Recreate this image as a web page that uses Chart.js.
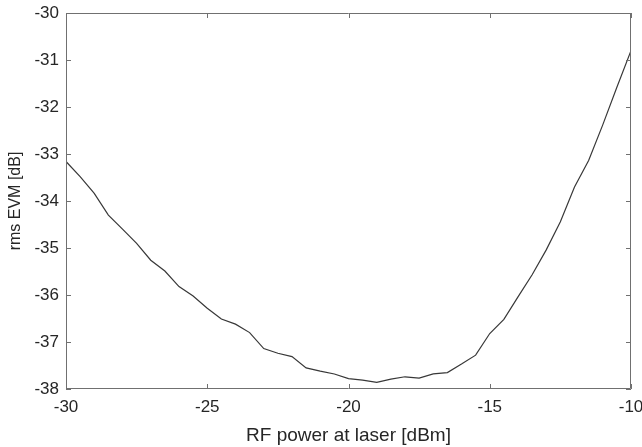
<!DOCTYPE html>
<html>
<head>
<meta charset="utf-8">
<script src="https://cdn.jsdelivr.net/npm/chart.js@4/dist/chart.umd.min.js"></script>
<style>
  html, body { margin: 0; padding: 0; background: #fff; }
  #wrap { width: 642px; height: 447px; }
</style>
</head>
<body>
<div id="wrap"><canvas id="evmChart" width="642" height="447"></canvas></div>
<script>
// RF power at laser [dBm]
const rfPower = [-30, -29.5, -29, -28.5, -28, -27.5, -27, -26.5, -26, -25.5,
    -25, -24.5, -24, -23.5, -23, -22.5, -22, -21.5, -21, -20.5,
    -20, -19.5, -19, -18.5, -18, -17.5, -17, -16.5, -16, -15.5,
    -15, -14.5, -14, -13.5, -13, -12.5, -12, -11.5, -11, -10.5, -10];

// rms EVM [dB]
const evm = [-33.16, -33.48, -33.84, -34.30, -34.60, -34.90, -35.26, -35.49, -35.82, -36.02,
    -36.28, -36.51, -36.62, -36.80, -37.14, -37.24, -37.31, -37.55, -37.62, -37.68,
    -37.78, -37.81, -37.86, -37.79, -37.74, -37.77, -37.68, -37.65, -37.47, -37.28,
    -36.82, -36.52, -36.04, -35.57, -35.04, -34.44, -33.70, -33.14, -32.38, -31.58, -30.80];

const xTicks = [-30, -25, -20, -15, -10];
const yTicks = [-38, -37, -36, -35, -34, -33, -32, -31, -30];

const axisColor = '#707070';
const textColor = '#262626';
const fontFamily = '"Liberation Sans", Arial, sans-serif';

// MATLAB style box with inward ticks on all four sides
const boxTicks = {
    id: 'boxTicks',
    afterDatasetsDraw(chart) {
        const { ctx, chartArea: a, scales: { x, y } } = chart;
        const len = 5;
        ctx.save();
        ctx.strokeStyle = axisColor;
        ctx.lineWidth = 1;
        ctx.beginPath();
        ctx.rect(a.left + 0.5, a.top + 0.5, a.right - a.left - 1, a.bottom - a.top - 1);
        xTicks.forEach(v => {
            const px = Math.round(x.getPixelForValue(v)) + 0.5;
            ctx.moveTo(px, a.bottom); ctx.lineTo(px, a.bottom - len);
            ctx.moveTo(px, a.top); ctx.lineTo(px, a.top + len);
        });
        yTicks.forEach(v => {
            const py = Math.round(y.getPixelForValue(v)) + 0.5;
            ctx.moveTo(a.left, py); ctx.lineTo(a.left + len, py);
            ctx.moveTo(a.right, py); ctx.lineTo(a.right - len, py);
        });
        ctx.stroke();
        ctx.restore();
    }
};

new Chart(document.getElementById('evmChart').getContext('2d'), {
    type: 'line',
    data: {
        datasets: [{
            data: rfPower.map((p, i) => ({ x: p, y: evm[i] })),
            borderColor: '#383838',
            borderWidth: 1.2,
            pointRadius: 0,
            fill: false,
            tension: 0
        }]
    },
    options: {
        responsive: false,
        animation: false,
        layout: { padding: { left: 0, right: 11, top: 13, bottom: 0 } },
        plugins: { legend: { display: false }, tooltip: { enabled: false } },
        scales: {
            x: {
                type: 'linear',
                min: -30, max: -10,
                afterBuildTicks: s => { s.ticks = xTicks.map(v => ({ value: v })); },
                afterFit: s => { s.height = 58; s.paddingLeft = 0; s.paddingRight = 0; },
                ticks: { color: textColor, font: { family: fontFamily, size: 17 }, padding: 8, maxRotation: 0 },
                grid: { drawOnChartArea: false, drawTicks: false },
                border: { display: false },
                title: { display: true, text: 'RF power at laser [dBm]', color: textColor,
                    font: { family: fontFamily, size: 19 }, padding: { top: 0, bottom: 0 } }
            },
            y: {
                min: -38, max: -30,
                afterBuildTicks: s => { s.ticks = yTicks.map(v => ({ value: v })); },
                afterFit: s => { s.width = 66; s.paddingTop = 0; s.paddingBottom = 0; },
                ticks: { color: textColor, font: { family: fontFamily, size: 17 }, padding: 7 },
                grid: { drawOnChartArea: false, drawTicks: false },
                border: { display: false },
                title: { display: true, text: 'rms EVM [dB]', color: textColor,
                    font: { family: fontFamily, size: 16 }, padding: { top: 6, bottom: 0 } }
            }
        }
    },
    plugins: [boxTicks]
});
</script>
</body>
</html>
